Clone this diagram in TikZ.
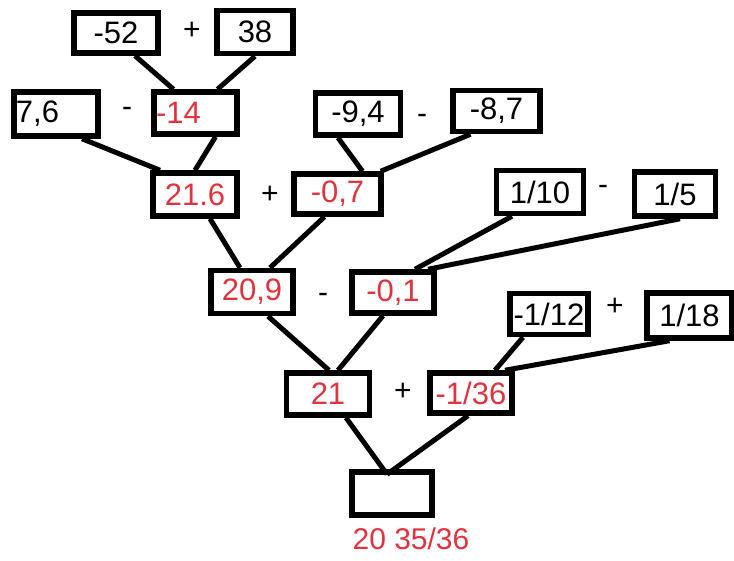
\documentclass[tikz,border=0pt]{standalone}
\usepackage{fontspec}
\setmainfont{Liberation Sans}
\usetikzlibrary{positioning}

\definecolor{resred}{RGB}{222,52,64}

\begin{document}
\begin{tikzpicture}[
    x=1pt, y=-1pt,
    numbox/.style={
        draw,
        line width=5.5pt,
        inner sep=1pt,
        font=\fontsize{31}{32}\selectfont,
        anchor=center
        },
    resbox/.style={
        numbox,
        text=resred
        },
    op/.style={
        font=\fontsize{30}{32}\selectfont
        },
    link/.style={
        line width=5pt
        }
]
\useasboundingbox[fill=white] (0,0) rectangle (734,560);

% level 1
\node[numbox, minimum width=84, minimum height=40] (n52) at (116,33) {-52};
\node[op] (opa) at (192,31) {+};
\node[numbox, minimum width=76, minimum height=43] (n38) at (255,32) {38};

% level 2
\node[numbox, minimum width=84, minimum height=44, text width=80, align=left] (n76) at (56,114) {7,6};
\node[op] (opb) at (127,112) {-};
\node[resbox, minimum width=83, minimum height=42, text width=79, align=left] (n14) at (195.5,113) {-14};
\node[numbox, minimum width=85, minimum height=42] (n94) at (358,114) {-9,4};
\node[op] (opc) at (422,119) {-};
\node[numbox, minimum width=87, minimum height=41] (n87) at (496.5,111) {-8,7};

% level 3
\node[resbox, minimum width=84, minimum height=43] (n216) at (195,194.5) {21.6};
\node[op] (opd) at (270,195) {+};
\node[resbox, minimum width=87, minimum height=40] (n07) at (337.5,194) {-0,7};
\node[numbox, minimum width=87, minimum height=43] (n110) at (540,192) {1/10};
\node[op] (ope) at (603,190) {-};
\node[numbox, minimum width=81, minimum height=44] (n15) at (675,194) {1/5};

% level 4
\node[resbox, minimum width=82, minimum height=43] (n209) at (252,292) {20,9};
\node[op] (opf) at (323,298) {-};
\node[resbox, minimum width=82, minimum height=41] (n01) at (393,292.5) {-0,1};
\node[numbox, minimum width=78, minimum height=41] (n112) at (549,314) {-1/12};
\node[op] (opg) at (615,307) {+};
\node[numbox, minimum width=85, minimum height=45] (n118) at (689.5,315.5) {1/18};

% level 5
\node[resbox, minimum width=83, minimum height=42] (n21) at (328,394) {21};
\node[op] (oph) at (403,392) {+};
\node[resbox, minimum width=82, minimum height=40] (n136) at (471,393) {-1/36};

% result
\node[numbox, minimum width=80, minimum height=43] (res) at (392,493.5) {};
\node[text=resred, font=\fontsize{30}{32}\selectfont] (restext) at (411,539) {20 35/36};

% links
\draw[link] ([xshift=19]n52.south) -- ([xshift=-22]n14.north);
\draw[link] (n38.south) -- ([xshift=22]n14.north);
\draw[link] ([xshift=26]n76.south) -- ([xshift=-35]n216.north);
\draw[link] ([xshift=20]n14.south) -- (n216.north);
\draw[link] ([xshift=-20]n94.south) -- ([xshift=25]n07.north);
\draw[link] ([xshift=-26]n87.south) -- ([xshift=-3]n07.north east);
\draw[link] ([xshift=15]n216.south) -- ([xshift=-12]n209.north);
\draw[link] ([xshift=-13]n07.south) -- ([xshift=18]n209.north);
\draw[link] ([xshift=-28]n110.south) -- ([xshift=22]n01.north);
\draw[link] ([xshift=5]n15.south) -- ([xshift=35]n01.north);
\draw[link] ([xshift=16]n209.south) -- ([xshift=1]n21.north);
\draw[link] ([xshift=-10]n01.south) -- ([xshift=10]n21.north);
\draw[link] ([xshift=-26]n112.south) -- ([xshift=24]n136.north);
\draw[link] ([xshift=-20]n118.south) -- ([xshift=34]n136.north);
\draw[link] ([xshift=18]n21.south) -- ([xshift=-5,yshift=-5]res.north);
\draw[link] ([xshift=-3]n136.south) -- ([xshift=-5,yshift=-5]res.north);

\end{tikzpicture}
\end{document}
